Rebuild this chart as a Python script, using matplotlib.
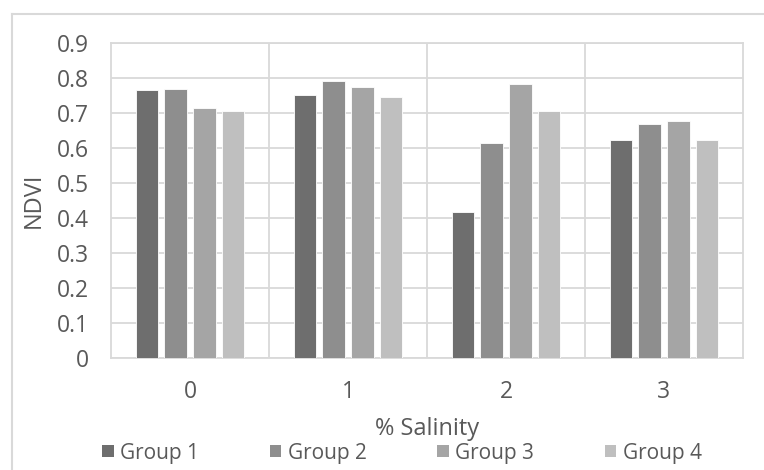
import matplotlib
matplotlib.use("Agg")
import matplotlib.pyplot as plt
from matplotlib.patches import Patch
from matplotlib.lines import Line2D
import numpy as np

# NDVI by salinity level for each group
salinity = ["0", "1", "2", "3"]
groups = ["Group 1", "Group 2", "Group 3", "Group 4"]
group1 = [0.766, 0.751, 0.417, 0.622]
group2 = [0.770, 0.791, 0.615, 0.669]
group3 = [0.714, 0.773, 0.784, 0.677]
group4 = [0.707, 0.747, 0.707, 0.622]
y_ticks = [0, 0.1, 0.2, 0.3, 0.4, 0.5, 0.6, 0.7, 0.8, 0.9]
y_tick_labels = ["0", "0.1", "0.2", "0.3", "0.4", "0.5", "0.6", "0.7", "0.8", "0.9"]

colors = ["#6e6e6e", "#8e8e8e", "#a5a5a5", "#bfbfbf"]
grid_c = "#d9d9d9"
text_c = "#595959"
fs_tick = 16.5
fs_title = 17
fs_leg = 15

plt.rcParams["font.family"] = ["Open Sans", "DejaVu Sans"]

fig = plt.figure(figsize=(7.64, 4.70), dpi=100)
ax = fig.add_axes([111 / 764, 1 - 358 / 470, (743 - 111) / 764, (358 - 43) / 470])

x = np.arange(len(salinity))
pitch = 0.1816
width = 0.142
series = [group1, group2, group3, group4]
for i, (vals, name) in enumerate(zip(series, groups)):
    ax.bar(x + (i - 1.5) * pitch, vals, width=width, color=colors[i],
           edgecolor="white", linewidth=0.6, label=name, zorder=3)

ax.set_xlim(-0.5, 3.5)
ax.set_ylim(0, 0.9)
ax.set_yticks(y_ticks)
ax.set_yticklabels(y_tick_labels)
ax.set_xticks(x)
ax.set_xticklabels(salinity)
ax.set_xticks([0.5, 1.5, 2.5], minor=True)
ax.grid(axis="y", which="major", color=grid_c, linewidth=1.3, zorder=0)
ax.grid(axis="x", which="minor", color=grid_c, linewidth=1.3, zorder=0)
ax.tick_params(which="both", length=0)
ax.tick_params(axis="y", pad=16, labelsize=fs_tick, labelcolor=text_c)
ax.tick_params(axis="x", pad=16, labelsize=fs_tick, labelcolor=text_c)
for s in ax.spines.values():
    s.set_color(grid_c)
    s.set_linewidth(1.3)

fig.text(34 / 764, 1 - 200 / 470, "NDVI", rotation=90, ha="center", va="center",
         fontsize=fs_title, color=text_c)
fig.text(427 / 764, 1 - 429 / 470, "% Salinity", ha="center", va="center",
         fontsize=fs_title, color=text_c)

handles = [Patch(facecolor=c, edgecolor="none") for c in colors]
leg = fig.legend(handles, groups, loc="center", bbox_to_anchor=(402 / 764, 1 - 453 / 470),
                 ncol=4, frameon=False, fontsize=fs_leg, handlelength=0.55, handleheight=0.55,
                 handletextpad=0.3, columnspacing=3.4, borderpad=0)
for t in leg.get_texts():
    t.set_color(text_c)

# outer chart frame
fig.add_artist(Line2D([12 / 764, 12 / 764], [0, 1 - 14 / 470], transform=fig.transFigure,
                      color=grid_c, linewidth=1.5))
fig.add_artist(Line2D([12 / 764, 1], [1 - 14 / 470, 1 - 14 / 470], transform=fig.transFigure,
                      color=grid_c, linewidth=1.5))

fig.savefig("out.png", dpi=100)
